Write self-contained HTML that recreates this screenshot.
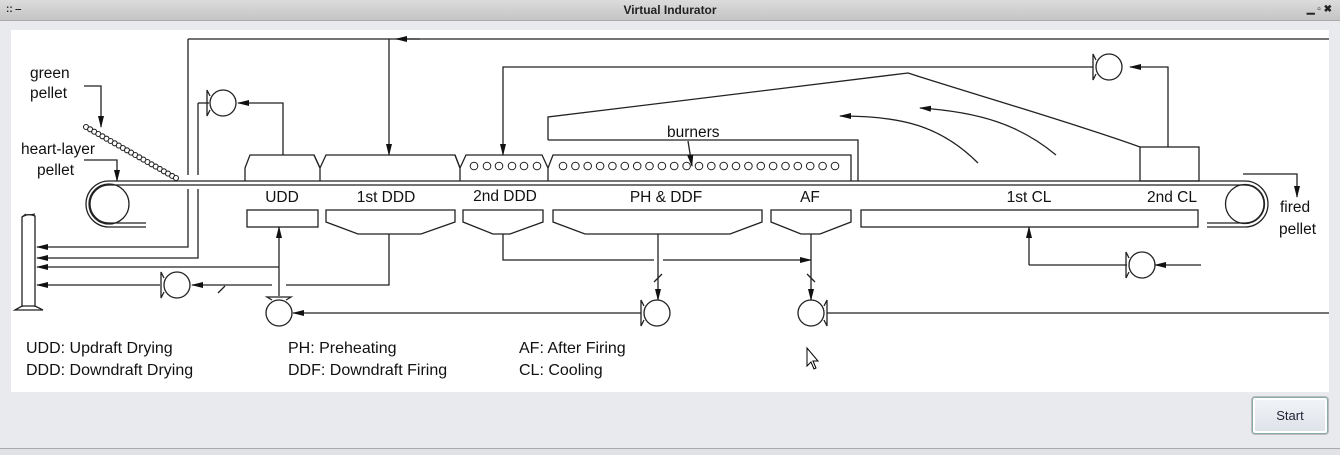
<!DOCTYPE html>
<html><head><meta charset="utf-8"><style>
html,body{margin:0;padding:0;width:1340px;height:454px;overflow:hidden;background:#e8eaee;font-family:"Liberation Sans",sans-serif}
#title{position:absolute;left:0;top:0;width:1340px;height:20px;background:linear-gradient(#dcdcdc,#c4c4c4);border-bottom:1px solid #aaa;font-weight:bold;font-size:12px;text-align:center;line-height:20px;color:#222}
#panel{position:absolute;left:11px;top:30px;width:1318px;height:362px;background:#fff}
#btn{position:absolute;left:1252px;top:397px;width:74px;height:35px;border:1px solid #8aa;border-radius:3px;background:linear-gradient(#f2f4f7,#dde2e9);box-shadow:inset 0 0 0 2px #fff,0 0 0 1px #bbb;font-size:13px;text-align:center;line-height:35px;color:#223}
#bot{position:absolute;left:0;top:448px;width:1340px;height:6px;border-top:1px solid #aaa;background:#e0e2e5}
svg{position:absolute;left:0;top:0}
</style></head><body>
<div id="title">Virtual Indurator<span style="position:absolute;left:6px;top:0;font-size:10px">:: ‒</span><span style="position:absolute;right:8px;top:0;font-size:10px">▁ ▫ ✖</span></div>
<div id="panel"></div>
<div id="btn">Start</div>
<div id="bot"></div>
<svg width="1340" height="454" viewBox="0 0 1340 454">
<defs><marker id="a" markerWidth="12" markerHeight="6" refX="11" refY="3" orient="auto" markerUnits="userSpaceOnUse"><path d="M0,0 L12,3 L0,6z" fill="#111"/></marker></defs>
<g fill="none" stroke="#222" stroke-width="1.3">
<line x1="1329" y1="39" x2="188" y2="39"/>
<path d="M420,39 L396,39" marker-end="url(#a)"/>
<line x1="389" y1="39" x2="389" y2="155" marker-end="url(#a)"/>
<path d="M188,39 V175 M188,189 V247 H37" marker-end="url(#a)"/>
<path d="M198,103 V175 M198,189 V258 H37" marker-end="url(#a)"/>
<path d="M279,267 H37" marker-end="url(#a)"/>
<path d="M160,285 H37" marker-end="url(#a)"/>
<path d="M22,307 V217 Q28,213 35,216 V307 M15,310 L22,306 H35 L43,310 Z"/>
<path d="M22,217 L26,214 M30,215 L35,214"/>
<path d="M198,103 H209"/>
<circle cx="223" cy="103" r="13"/>
<path d="M210,96 L207,90 V116 L210,110"/>
<path d="M283,155 V103 H238" marker-end="url(#a)"/>
<path d="M109,181 H1245 M109,185 H1245"/>
<path d="M109,181 A23,23 0 0 0 109,227 H146 M109,185 A19,19 0 0 0 109,223 H146"/>
<circle cx="109" cy="204" r="20"/>
<path d="M1245,181 A23,23 0 0 1 1245,227 H1207 M1245,185 A19,19 0 0 1 1245,223 H1207"/>
<circle cx="1245" cy="204" r="19.5"/>
<path d="M245,181 V168 L250,155 H314 L320,168 V181"/>
<path d="M320,168 L326,155 H455 L460,168 M320,168 L314,155"/>
<path d="M460,181 V168 L466,155 H542 L548,168 V181 M455,155 L460,168"/>
<path d="M548,168 L553,155 H851 V181"/>
<path d="M548,140 V117 L908,73 C960,90 1080,125 1140,147 M548,140 H858 V181"/>
<rect x="1140" y="147" width="59" height="34"/>
<path d="M1168,147 V67 H1130" marker-end="url(#a)"/>
<circle cx="1109" cy="67" r="13"/>
<path d="M1096,60 L1093,54 V80 L1096,74"/>
<path d="M1093,67 H503 V155" marker-end="url(#a)"/>
<path d="M1056,155 C1020,125 980,112 920,108" marker-end="url(#a)"/>
<path d="M978,163 C940,125 900,116 840,116" marker-end="url(#a)"/>
<rect x="247" y="210" width="71" height="17"/>
<path d="M326,210 V222 L358,234 H421 L455,222 V210 Z"/>
<path d="M463,210 V222 L493,234 H510 L543,222 V210 Z"/>
<path d="M553,210 V222 L585,234 H730 L762,222 V210 Z"/>
<path d="M771,210 V222 L801,234 H820 L851,222 V210 Z"/>
<rect x="861" y="210" width="337" height="17"/>
<path d="M503,234 V260 H654 M663,260 H811" marker-end="url(#a)"/>
<path d="M658,234 V300" marker-end="url(#a)"/>
<path d="M811,234 V300" marker-end="url(#a)"/>
<path d="M654,282 L662,274 M807,274 L815,282"/>
<circle cx="657" cy="313" r="13"/>
<path d="M644,306 L641,300 V326 L644,320"/>
<circle cx="811" cy="313" r="13"/>
<path d="M824,306 L827,300 V326 L824,320"/>
<path d="M827,313 H1329"/>
<path d="M389,234 V285 H286 M272,285 H192" marker-end="url(#a)"/>
<path d="M218,293 L225,286"/>
<circle cx="177" cy="285" r="13"/>
<path d="M164,278 L161,272 V298 L164,292"/>
<path d="M279,296 V227" marker-end="url(#a)"/>
<circle cx="279" cy="313" r="13"/>
<path d="M272,300 L267,297 H291 L286,300"/>
<path d="M641,313 H293" marker-end="url(#a)"/>
<path d="M1029,265 V227" marker-end="url(#a)"/>
<path d="M1029,265 H1127"/>
<circle cx="1142" cy="265" r="13"/>
<path d="M1129,258 L1126,252 V278 L1129,272"/>
<path d="M1201,265 H1155" marker-end="url(#a)"/>
<path d="M1243,174 H1297 V197" marker-end="url(#a)"/>
<path d="M84,86 H101 V127" marker-end="url(#a)"/>
<path d="M84,160 H117 V181" marker-end="url(#a)"/>
<path d="M688,141 L692,166" marker-end="url(#a)"/>
</g>
<g fill="#fff" stroke="#222" stroke-width="1.1">
<circle cx="86" cy="127" r="2.5"/><circle cx="90.1" cy="129.3" r="2.5"/><circle cx="94.2" cy="131.7" r="2.5"/><circle cx="98.3" cy="134" r="2.5"/><circle cx="102.4" cy="136.3" r="2.5"/><circle cx="106.5" cy="138.7" r="2.5"/><circle cx="110.6" cy="141" r="2.5"/><circle cx="114.7" cy="143.3" r="2.5"/><circle cx="118.8" cy="145.6" r="2.5"/><circle cx="122.9" cy="148" r="2.5"/><circle cx="127" cy="150.3" r="2.5"/><circle cx="131.1" cy="152.6" r="2.5"/><circle cx="135.2" cy="155" r="2.5"/><circle cx="139.3" cy="157.3" r="2.5"/><circle cx="143.4" cy="159.6" r="2.5"/><circle cx="147.5" cy="162" r="2.5"/><circle cx="151.6" cy="164.3" r="2.5"/><circle cx="155.7" cy="166.6" r="2.5"/><circle cx="159.8" cy="168.9" r="2.5"/><circle cx="163.9" cy="171.3" r="2.5"/><circle cx="168" cy="173.6" r="2.5"/><circle cx="172.1" cy="175.9" r="2.5"/><circle cx="176" cy="178" r="2.5"/>
</g>
<g fill="none" stroke="#222" stroke-width="1">
<circle cx="474" cy="166" r="3.8"/><circle cx="487" cy="166" r="3.8"/><circle cx="499" cy="166" r="3.8"/><circle cx="512" cy="166" r="3.8"/><circle cx="524" cy="166" r="3.8"/><circle cx="537" cy="166" r="3.8"/>
<circle cx="563" cy="166" r="3.8"/><circle cx="575.4" cy="166" r="3.8"/><circle cx="587.7" cy="166" r="3.8"/><circle cx="600.1" cy="166" r="3.8"/><circle cx="612.4" cy="166" r="3.8"/><circle cx="624.8" cy="166" r="3.8"/><circle cx="637.2" cy="166" r="3.8"/><circle cx="649.5" cy="166" r="3.8"/><circle cx="661.9" cy="166" r="3.8"/><circle cx="674.2" cy="166" r="3.8"/><circle cx="686.6" cy="166" r="3.8"/><circle cx="699" cy="166" r="3.8"/><circle cx="711.3" cy="166" r="3.8"/><circle cx="723.7" cy="166" r="3.8"/><circle cx="736" cy="166" r="3.8"/><circle cx="748.4" cy="166" r="3.8"/><circle cx="760.8" cy="166" r="3.8"/><circle cx="773.1" cy="166" r="3.8"/><circle cx="785.5" cy="166" r="3.8"/><circle cx="797.8" cy="166" r="3.8"/><circle cx="810.2" cy="166" r="3.8"/><circle cx="822.6" cy="166" r="3.8"/><circle cx="835" cy="166" r="3.8"/>
</g>
<g font-family="Liberation Sans, sans-serif" font-size="15.5" fill="#111">
<text x="30" y="78">green</text><text x="30" y="98">pellet</text>
<text x="21" y="154">heart-layer</text><text x="37" y="175">pellet</text>
<text x="1280" y="212">fired</text><text x="1279" y="234">pellet</text>
<text x="667" y="137">burners</text>
<g text-anchor="middle"><text x="282" y="202">UDD</text><text x="386" y="202">1st DDD</text><text x="505" y="201">2nd DDD</text><text x="666" y="202">PH &amp; DDF</text><text x="810" y="202">AF</text><text x="1029" y="202">1st CL</text><text x="1172" y="202">2nd CL</text></g>
<text x="26" y="353" font-size="16">UDD: Updraft Drying</text><text x="26" y="375" font-size="16">DDD: Downdraft Drying</text>
<text x="288" y="353" font-size="16">PH: Preheating</text><text x="288" y="375" font-size="16">DDF: Downdraft Firing</text>
<text x="519" y="353" font-size="16">AF: After Firing</text><text x="519" y="375" font-size="16">CL: Cooling</text>
</g>
<path d="M807,348 V366 L811,362 L814,369 L816,368 L813,361 L818,361 Z" fill="#fff" stroke="#000" stroke-width="1"/>
</svg>
</body></html>
